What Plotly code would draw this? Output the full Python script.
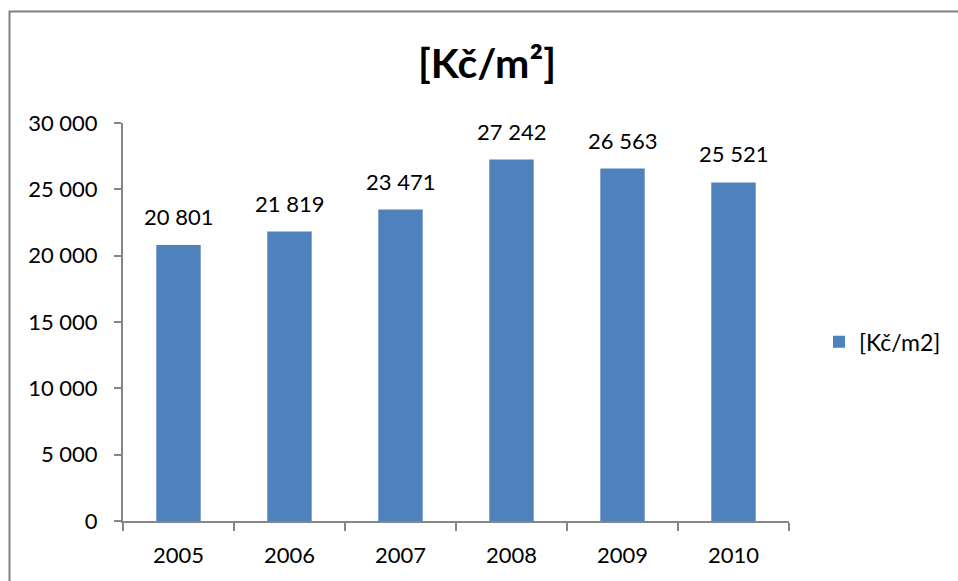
import plotly.graph_objects as go

years = ["2005", "2006", "2007", "2008", "2009", "2010"]
values = [20801, 21819, 23471, 27242, 26563, 25521]
tick_vals = [0, 5000, 10000, 15000, 20000, 25000, 30000]
tick_text = ["0", "5 000", "10 000", "15 000", "20 000", "25 000", "30 000"]
series_name = "[Kč/m2]"
title_text = "[Kč/m²]"

FONT = "Lato"
W, H = 958, 581
ml, mr, mt, mb = 123, 166, 123, 60
pw, ph = W - ml - mr, H - mt - mb

fig = go.Figure()
fig.add_trace(go.Bar(
    x=years, y=values, name=series_name,
    marker=dict(color="#4F81BD", line=dict(width=0)),
    width=0.4,
))

for i, v in enumerate(values):
    fig.add_annotation(
        x=i, y=v, text=f"{v:,}".replace(",", " "),
        showarrow=False, yanchor="bottom", yshift=13,
        font=dict(family=FONT, size=22, color="black"),
    )

# outer chart border (Excel chart area)
bx0 = (9 - ml) / pw
by1 = (H - mb - 11.5) / ph
fig.add_shape(type="rect", xref="paper", yref="paper",
              x0=bx0, y0=-1, x1=2, y1=by1,
              line=dict(color="#808080", width=2), layer="below")

fig.update_layout(
    width=W, height=H,
    margin=dict(l=ml, r=mr, t=mt, b=mb, pad=0),
    paper_bgcolor="white", plot_bgcolor="white",
    title=dict(text=title_text, x=487 / W, xanchor="center",
               y=1 - 64 / H, yanchor="middle",
               font=dict(family=FONT, size=41, color="black", weight="bold")),
    showlegend=True,
    legend=dict(x=1.045, y=0.45, xanchor="left", yanchor="middle",
                font=dict(family=FONT, size=23, color="black"),
                bgcolor="rgba(0,0,0,0)"),
    font=dict(family=FONT, color="black"),
)

fig.update_xaxes(
    type="category", range=[-0.5, len(years) - 0.5], autorange=False,
    showline=True, linecolor="#868686", linewidth=2,
    ticks="outside", tickson="boundaries", ticklen=8, tickwidth=2, tickcolor="#868686",
    tickfont=dict(family=FONT, size=22, color="black"), tickangle=0,
    ticklabelstandoff=14, showgrid=False, zeroline=False,
)
fig.update_yaxes(
    range=[0, 30000], autorange=False, tickvals=tick_vals, ticktext=tick_text,
    showline=True, linecolor="#868686", linewidth=2,
    ticks="outside", ticklen=7, tickwidth=2, tickcolor="#868686",
    tickfont=dict(family=FONT, size=22, color="black"),
    ticklabelstandoff=12, showgrid=False, zeroline=False,
)

fig.write_html("out.html")
